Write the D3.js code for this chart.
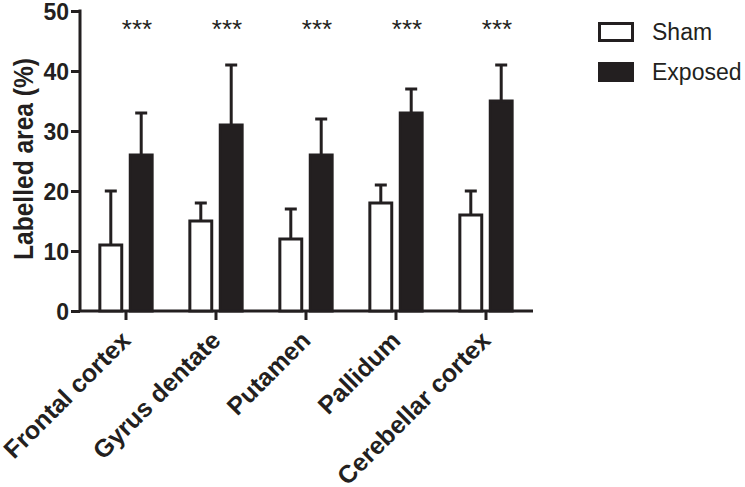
<!DOCTYPE html>
<html><head><meta charset="utf-8">
<script src="https://cdn.jsdelivr.net/npm/d3@7"></script>
<style>body{margin:0;background:#fff}svg{display:block}</style>
</head><body>
<svg id="c" width="745" height="487"></svg>
<script>
const categories = ["Frontal cortex","Gyrus dentate","Putamen","Pallidum","Cerebellar cortex"];
const series = ["Sham","Exposed"];
const shamValues = [11,15,12,18,16];
const shamErrors = [9,3,5,3,4];
const exposedValues = [26,31,26,33,35];
const exposedErrors = [7,10,6,4,6];
const significance = ["***","***","***","***","***"];
const yTicks = [0,10,20,30,40,50];

const ink = "#231f20";
const font = "Liberation Sans, Arial, sans-serif";
const svg = d3.select("#c");
const m = {left:80, top:11, bottom:311};
const y = d3.scaleLinear().domain([0,50]).range([m.bottom, m.top]);
const x = d3.scaleBand().domain(categories).range([81,531]).paddingInner(0).paddingOuter(0);
const xs = d3.scaleBand().domain(series).range([0, x.bandwidth()]).paddingInner(0.28).paddingOuter(0.62);

// y axis
const ya = svg.append("g").attr("transform",`translate(${m.left},0)`)
  .call(d3.axisLeft(y).tickValues(yTicks).tickSize(9).tickPadding(2));
ya.select(".domain").attr("stroke",ink).attr("stroke-width",3).attr("d",`M0,${m.top-1.5}V${m.bottom}`);
ya.selectAll(".tick line").attr("stroke",ink).attr("stroke-width",3);
ya.selectAll(".tick text").attr("fill",ink).attr("font-family",font)
  .attr("font-weight","bold").attr("font-size",23).attr("dy","0.36em");

// x axis
const xa = svg.append("g").attr("transform",`translate(0,${m.bottom})`)
  .call(d3.axisBottom(x).tickSize(9).tickFormat(""));
xa.select(".domain").attr("stroke",ink).attr("stroke-width",3).attr("d",`M${m.left},0H533`);
xa.selectAll(".tick line").attr("stroke",ink).attr("stroke-width",3);
xa.selectAll(".tick").each(function(d){
  d3.select(this).append("text")
    .attr("transform","translate(6,31) rotate(-45)")
    .attr("text-anchor","end").attr("fill",ink)
    .attr("font-family",font).attr("font-weight","bold").attr("font-size",25)
    .text(d);
});

const rows = categories.map((c,i)=>[
  {c, s:"Sham", v:shamValues[i], e:shamErrors[i]},
  {c, s:"Exposed", v:exposedValues[i], e:exposedErrors[i]}
]).flat();

const g = svg.append("g");
const cx = d => x(d.c)+xs(d.s)+xs.bandwidth()/2;
// error bars
g.selectAll("line.err").data(rows).join("line").attr("class","err")
  .attr("x1",cx).attr("x2",cx)
  .attr("y1",d=>y(d.v)).attr("y2",d=>y(d.v+d.e)).attr("stroke",ink).attr("stroke-width",3);
g.selectAll("line.cap").data(rows).join("line").attr("class","cap")
  .attr("x1",d=>cx(d)-6).attr("x2",d=>cx(d)+6)
  .attr("y1",d=>y(d.v+d.e)).attr("y2",d=>y(d.v+d.e)).attr("stroke",ink).attr("stroke-width",3);
// bars
g.selectAll("rect.bar").data(rows).join("rect").attr("class","bar")
  .attr("x",d=>x(d.c)+xs(d.s)).attr("width",xs.bandwidth())
  .attr("y",d=>y(d.v)).attr("height",d=>y(0)-y(d.v))
  .attr("fill",d=>d.s==="Sham"?"#fff":ink).attr("stroke",ink).attr("stroke-width",3);

// significance
svg.append("g").selectAll("text").data(categories).join("text")
  .attr("x",(d)=>x(d)+x.bandwidth()/2+11).attr("y",y(50)+27)
  .attr("text-anchor","middle").attr("fill",ink)
  .attr("font-family",font).attr("font-size",26)
  .text((d,i)=>significance[i]);

// y label
svg.append("text").attr("transform","translate(33,159) rotate(-90)")
  .attr("text-anchor","middle").attr("fill",ink)
  .attr("font-family",font).attr("font-weight","bold").attr("font-size",27)
  .attr("textLength",202).attr("lengthAdjust","spacingAndGlyphs")
  .text("Labelled area (%)");

// legend
const lg = svg.append("g").selectAll("g").data(series).join("g")
  .attr("transform",(d,i)=>`translate(598,${22+i*40})`);
lg.append("rect").attr("x",1.5).attr("y",1.5).attr("width",33).attr("height",17)
  .attr("fill",d=>d==="Sham"?"#fff":ink).attr("stroke",ink).attr("stroke-width",3);
lg.append("text").attr("x",54).attr("y",10).attr("dy","0.36em").attr("fill",ink)
  .attr("font-family",font).attr("font-size",23)
  .text(d=>d);
</script>
</body></html>
